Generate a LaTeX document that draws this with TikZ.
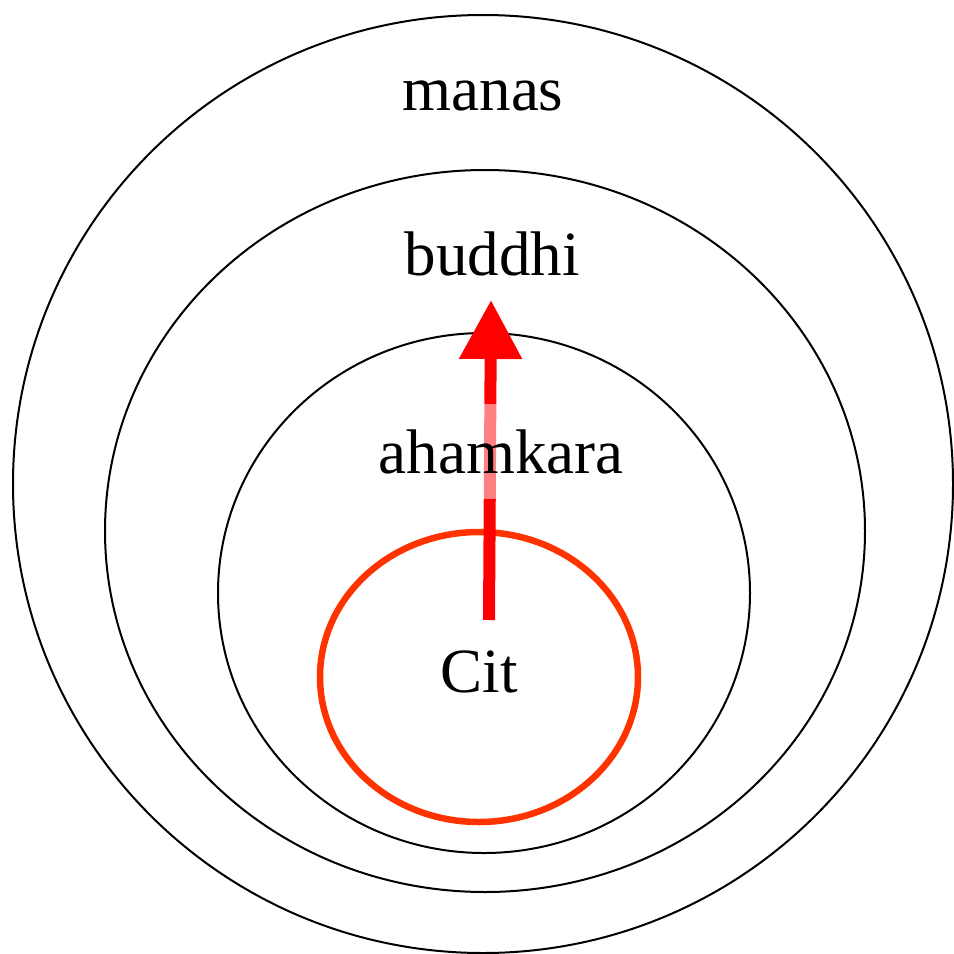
\documentclass[tikz,border=0pt]{standalone}
\usepackage{fontspec}
\setmainfont{Liberation Serif}
\usetikzlibrary{arrows.meta,shapes.geometric}
\begin{document}
\begin{tikzpicture}[x=1pt,y=-1pt,
  ring/.style={ellipse, draw=black, line width=2pt, inner sep=0pt},
  label/.style={font=\fontsize{63}{76}\selectfont, anchor=base, inner sep=0pt},
  citring/.style={ellipse, draw={rgb,255:red,255;green,51;blue,0}, line width=6.5pt, inner sep=0pt}]
\useasboundingbox (0,0) rectangle (954,954);
\node[ring, minimum width=940pt, minimum height=938pt] (manasring) at (483,484) {};
\node[ring, minimum width=760pt, minimum height=722pt] (buddhiring) at (485,531) {};
\node[ring, minimum width=532pt, minimum height=520pt] (ahamring) at (484,593) {};
\node[citring, minimum width=318pt, minimum height=290pt] (citring) at (479,677) {};
\coordinate (start) at (489,620);
\coordinate (tip) at (491,300);
\draw[red, line width=12pt, -{Triangle[width=60pt,length=59pt]}] (start) -- (tip);
\node[label] (manas) at (483,110) {manas};
\node[label] (buddhi) at (492,275) {buddhi};
\node[label, fill=white, fill opacity=0.5, text opacity=1, text height=43pt, text depth=0pt, inner xsep=0pt, inner ysep=26pt] (aham) at (501,473) {ahamkara};
\node[label] (cit) at (479,692) {Cit};
\end{tikzpicture}
\end{document}
